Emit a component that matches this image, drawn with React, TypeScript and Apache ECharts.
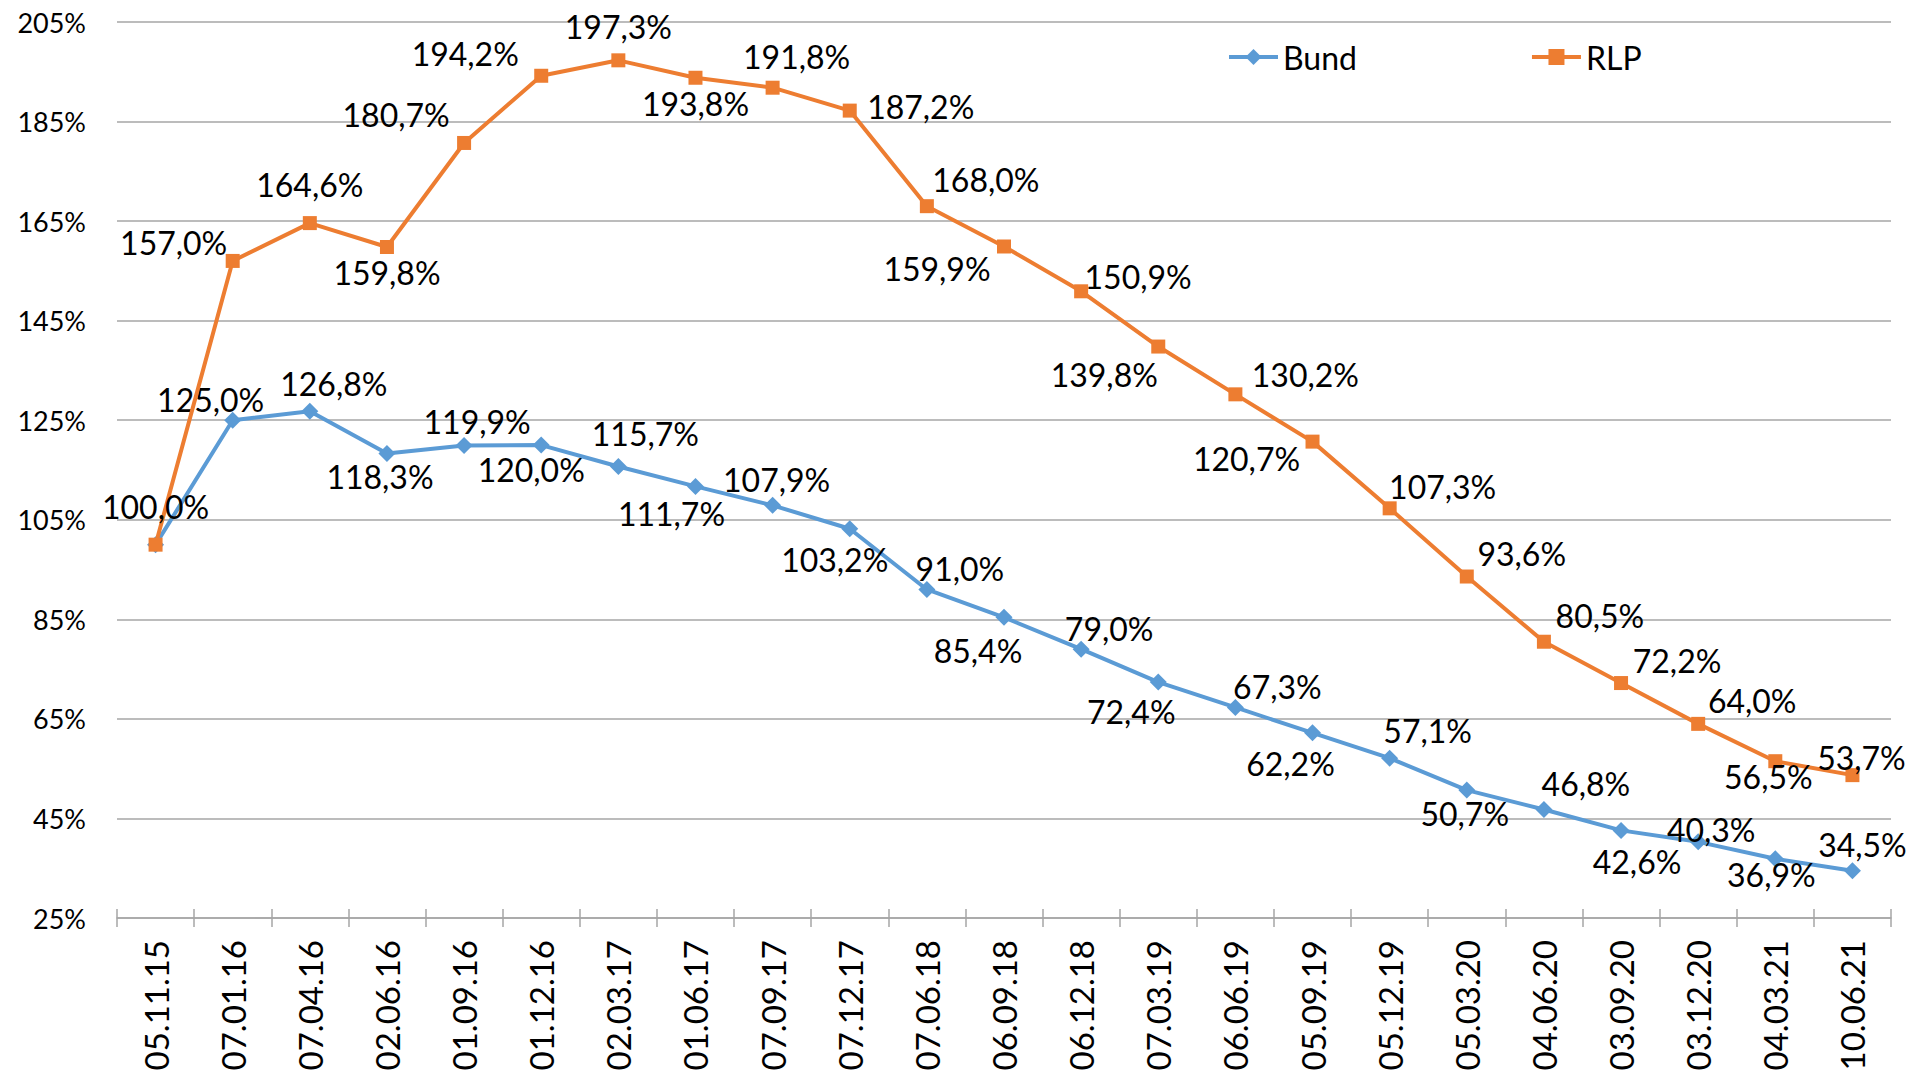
import React, { useEffect, useRef } from "react";
import * as echarts from "echarts";

const categories = [
  "05.11.15", "07.01.16", "07.04.16", "02.06.16", "01.09.16", "01.12.16",
  "02.03.17", "01.06.17", "07.09.17", "07.12.17", "07.06.18", "06.09.18",
  "06.12.18", "07.03.19", "06.06.19", "05.09.19", "05.12.19", "05.03.20",
  "04.06.20", "03.09.20", "03.12.20", "04.03.21", "10.06.21",
];

const bund = [
  100.0, 125.0, 126.8, 118.3, 119.9, 120.0, 115.7, 111.7, 107.9, 103.2, 91.0,
  85.4, 79.0, 72.4, 67.3, 62.2, 57.1, 50.7, 46.8, 42.6, 40.3, 36.9, 34.5,
];

const rlp = [
  100.0, 157.0, 164.6, 159.8, 180.7, 194.2, 197.3, 193.8, 191.8, 187.2, 168.0,
  159.9, 150.9, 139.8, 130.2, 120.7, 107.3, 93.6, 80.5, 72.2, 64.0, 56.5, 53.7,
];

const Y_MIN = 25;
const Y_MAX = 205;
const Y_STEP = 20;

// label placement (style, pixel offsets from each marker)
const RLP_LABEL_OFFSETS: [number, number][] = [
  [0, -38], [-59, -18], [0, -39], [0, 26], [-68, -28], [-76, -22], [0, -34],
  [0, 26], [24, -31], [71, -4], [59, -27], [-67, 22], [57, -15], [-54, 28],
  [70, -20], [-66, 17], [53, -22], [55, -23], [56, -26], [56, -23], [54, -23],
  [-7, 15], [9, -18],
];
const BUND_LABEL_OFFSETS: [number, number][] = [
  [0, -38], [-22, -21], [24, -28], [-7, 23], [13, -24], [-10, 24], [27, -33],
  [-24, 27], [4, -26], [-15, 31], [33, -21], [-26, 33], [28, -21], [-27, 29],
  [42, -21], [-22, 31], [38, -28], [-2, 23], [42, -26], [16, 31], [13, -12],
  [-4, 16], [10, -26],
];

const fmt = (v: number) => v.toFixed(1).replace(".", ",") + "%";

export default function App() {
  const ref = useRef<HTMLDivElement>(null);
  useEffect(() => {
    document.body.style.margin = "0";
    if (!ref.current) return;
    const chart = echarts.init(ref.current, undefined, { renderer: "svg" });
    const FONT = "Lato";
    const labelBase = {
      show: true,
      position: "inside" as const,
      fontSize: 32,
      fontFamily: FONT,
      color: "#000",
      formatter: (p: any) => fmt(p.value),
    };
    chart.setOption({
      animation: false,
      backgroundColor: "#fff",
      textStyle: { fontFamily: FONT },
      grid: {
        left: 117,
        right: 24,
        top: 22,
        bottom: 159,
        containLabel: false,
        outerBoundsMode: "none",
      },
      legend: {
        left: 1227,
        top: 41,
        padding: 0,
        itemWidth: 49,
        itemHeight: 20,
        itemGap: 173,
        lineStyle: { width: 4 },
        textStyle: { fontSize: 32, fontFamily: FONT, color: "#000" },
        data: ["Bund", "RLP"],
      },
      xAxis: [
        {
          type: "category",
          data: categories,
          boundaryGap: true,
          axisLine: { show: true, lineStyle: { color: "#A6A6A6", width: 1.5 } },
          axisTick: { show: true, length: 9, lineStyle: { color: "#A6A6A6", width: 1.5 } },
          axisLabel: {
            rotate: 90,
            fontSize: 33,
            fontFamily: FONT,
            color: "#000",
            margin: 22,
            interval: 0,
          },
          splitLine: { show: false },
        },
        {
          type: "category",
          data: categories,
          boundaryGap: true,
          position: "bottom",
          axisLine: { show: false },
          axisTick: { show: true, inside: true, length: 9, lineStyle: { color: "#A6A6A6", width: 1.5 } },
          axisLabel: { show: false },
          splitLine: { show: false },
        },
      ],
      yAxis: {
        type: "value",
        min: Y_MIN,
        max: Y_MAX,
        interval: Y_STEP,
        axisLine: { show: false },
        axisTick: { show: false },
        axisLabel: {
          fontSize: 27,
          fontFamily: FONT,
          color: "#000",
          margin: 31,
          formatter: (v: number) => v + "%",
        },
        splitLine: { show: true, lineStyle: { color: "#A6A6A6", width: 1.5 } },
      },
      series: [
        {
          name: "Bund",
          type: "line",
          xAxisIndex: 0,
          symbol: "diamond",
          symbolSize: 17,
          color: "#5B9BD5",
          lineStyle: { width: 4, color: "#5B9BD5" },
          itemStyle: { color: "#5B9BD5" },
          label: labelBase,
          z: 3,
          data: bund.map((v, i) => ({
            value: v,
            label: { show: i !== 0, offset: BUND_LABEL_OFFSETS[i] },
          })),
        },
        {
          name: "RLP",
          type: "line",
          xAxisIndex: 0,
          symbol: "rect",
          symbolSize: 14,
          color: "#ED7D31",
          lineStyle: { width: 4, color: "#ED7D31" },
          itemStyle: { color: "#ED7D31" },
          label: labelBase,
          z: 4,
          data: rlp.map((v, i) => ({
            value: v,
            label: { offset: RLP_LABEL_OFFSETS[i] },
          })),
        },
      ],
    });
    return () => chart.dispose();
  }, []);
  return <div ref={ref} style={{ width: 1915, height: 1077 }} />;
}
